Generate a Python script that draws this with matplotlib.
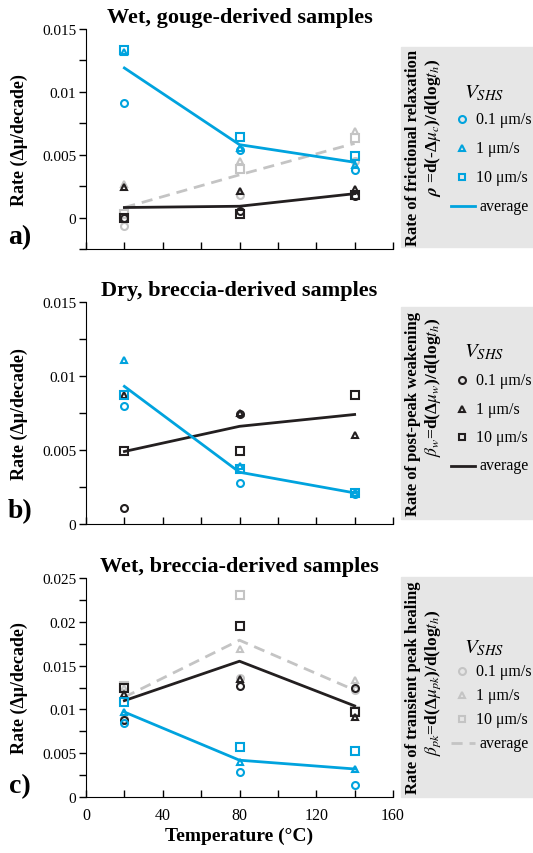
import numpy as np
import matplotlib
matplotlib.use('Agg')
import matplotlib.pyplot as plt
from matplotlib.patches import Rectangle
from matplotlib.lines import Line2D
from matplotlib.ticker import MultipleLocator, FuncFormatter

plt.rcParams['font.family'] = ['Liberation Serif', 'DejaVu Serif']
plt.rcParams['mathtext.fontset'] = 'stix'

# Data
temps = [20, 80, 140]

# a) wet, gouge-derived: rate of frictional relaxation
a_blue_circle = [0.0091, 0.0054, 0.0038]
a_blue_tri = [0.0132, 0.0055, 0.0042]
a_blue_sq = [0.0133, 0.0064, 0.0049]
a_blue_avg = [0.0119, 0.0058, 0.0044]
a_black_circle = [0.0000, 0.0005, 0.0017]
a_black_tri = [0.0024, 0.0021, 0.0023]
a_black_sq = [0.0000, 0.0003, 0.0018]
a_black_avg = [0.0008, 0.0009, 0.0019]
a_gray_circle = [-0.0007, 0.0018, 0.0045]
a_gray_tri = [0.0027, 0.0045, 0.0069]
a_gray_sq = [0.0003, 0.0039, 0.0063]
a_gray_avg = [0.0008, 0.0034, 0.0059]

# b) dry, breccia-derived: rate of post-peak weakening
b_blue_circle = [0.0080, 0.0028, 0.0020]
b_blue_tri = [0.0111, 0.0039, 0.0021]
b_blue_sq = [0.0087, 0.0037, 0.0021]
b_blue_avg = [0.0093, 0.0035, 0.0021]
b_black_circle = [0.0011, 0.0074, np.nan]
b_black_tri = [0.0087, 0.0075, 0.0060]
b_black_sq = [0.0049, 0.0049, 0.0087]
b_black_avg = [0.0049, 0.0066, 0.0074]

# c) wet, breccia-derived: rate of transient peak healing
c_gray_circle = [0.0089, 0.0136, 0.0122]
c_gray_tri = [0.0125, 0.0169, 0.0134]
c_gray_sq = [0.0127, 0.0231, 0.0098]
c_gray_avg = [0.0114, 0.0179, 0.0122]
c_black_circle = [0.0088, 0.0127, 0.0124]
c_black_tri = [0.0118, 0.0135, 0.0091]
c_black_sq = [0.0124, 0.0195, 0.0097]
c_black_avg = [0.0110, 0.0155, 0.0104]
c_blue_circle = [0.0084, 0.0029, 0.0014]
c_blue_tri = [0.0097, 0.0040, 0.0032]
c_blue_sq = [0.0108, 0.0057, 0.0053]
c_blue_avg = [0.0097, 0.0042, 0.0032]

BLUE = '#00a3de'
BLACK = '#231f20'
GRAY = '#c4c4c4'

W, H = 533, 854
fig = plt.figure(figsize=(W / 100, H / 100), dpi=100)


def fx(px):
    return px / W


def fy(py):
    return 1 - py / H


def add_axes(top, bottom):
    return fig.add_axes([fx(86), fy(bottom), fx(393) - fx(86), (bottom - top) / H])


def plot_group(ax, circ, tri, sq, avg, color, ls='-'):
    ax.plot(temps, avg, color=color, lw=2, ls=ls, dashes=(4, 2.5) if ls == '--' else (None, None))
    kw = dict(ls='none', mfc='none', mec=color, mew=1.5, clip_on=False)
    ax.plot(temps, circ, marker='o', ms=5, **kw)
    ax.plot(temps, tri, marker='^', ms=5, **kw)
    ax.plot(temps, sq, marker='s', ms=5.5, **kw)


def style_axes(ax, ymin, ymax, major, labels_x=False):
    ax.set_xlim(0, 160)
    ax.set_ylim(ymin, ymax)
    for s in ['top', 'right']:
        ax.spines[s].set_visible(False)
    ax.xaxis.set_major_locator(MultipleLocator(40))
    ax.xaxis.set_minor_locator(MultipleLocator(20))
    ax.yaxis.set_major_locator(MultipleLocator(major))
    ax.yaxis.set_minor_locator(MultipleLocator(major / 2))
    ax.yaxis.set_major_formatter(FuncFormatter(lambda v, p: '%g' % round(v, 4)))
    ax.tick_params(axis='x', which='both', direction='in', length=5, width=1, pad=7)
    ax.tick_params(axis='y', which='both', direction='out', length=5, width=1, labelsize=11, pad=2)
    ax.tick_params(axis='x', labelsize=11.5, labelbottom=labels_x)
    ax.set_ylabel('Rate (Δμ/decade)', fontsize=13, fontweight='bold')
    ax.yaxis.set_label_coords(-0.19, 0.5)


def side_panel(top, bottom, title, formula, color, ls, ylegend):
    fig.patches.append(Rectangle((fx(401), fy(bottom)), fx(533) - fx(401), (bottom - top) / H,
                                 transform=fig.transFigure, color='#e6e6e6', zorder=0))
    fig.text(fx(413), fy((top + bottom) / 2), title, rotation=90, ha='center', va='center',
             fontsize=12, fontweight='bold')
    fig.text(fx(433), fy(ylegend[0] + 35), formula, rotation=90, ha='center', va='center',
             fontsize=12.5, fontweight='bold')
    fig.text(fx(484), fy(ylegend[0]), r'$V_{SHS}$', ha='center', va='center', fontsize=15)
    labels = ['0.1 μm/s', '1 μm/s', '10 μm/s']
    markers = ['o', '^', 's']
    for i in range(3):
        yy = ylegend[1] + i * ylegend[2]
        fig.add_artist(Line2D([fx(462)], [fy(yy)], marker=markers[i], ms=5, mfc='none', mec=color, mew=1.5))
        fig.text(fx(476), fy(yy), labels[i], ha='left', va='center', fontsize=11.5)
    yy = ylegend[1] + 3 * ylegend[2]
    fig.add_artist(Line2D([fx(451), fx(475)], [fy(yy), fy(yy)], color=color, lw=2, ls=ls,
                          dashes=(4, 2.5) if ls == '--' else (None, None)))
    fig.text(fx(480), fy(yy), 'average', ha='left', va='center', fontsize=11.5)


# panel a
ax1 = add_axes(30, 250)
plot_group(ax1, a_gray_circle, a_gray_tri, a_gray_sq, a_gray_avg, GRAY, '--')
plot_group(ax1, a_black_circle, a_black_tri, a_black_sq, a_black_avg, BLACK)
plot_group(ax1, a_blue_circle, a_blue_tri, a_blue_sq, a_blue_avg, BLUE)
style_axes(ax1, -0.0025, 0.015, 0.005)
ax1.set_title('Wet, gouge-derived samples', fontsize=16, fontweight='bold', pad=5)

# panel b
ax2 = add_axes(303, 525)
plot_group(ax2, b_black_circle, b_black_tri, b_black_sq, b_black_avg, BLACK)
plot_group(ax2, b_blue_circle, b_blue_tri, b_blue_sq, b_blue_avg, BLUE)
style_axes(ax2, 0, 0.015, 0.005)
ax2.set_title('Dry, breccia-derived samples', fontsize=16, fontweight='bold', pad=5)

# panel c
ax3 = add_axes(579, 798)
plot_group(ax3, c_gray_circle, c_gray_tri, c_gray_sq, c_gray_avg, GRAY, '--')
plot_group(ax3, c_black_circle, c_black_tri, c_black_sq, c_black_avg, BLACK)
plot_group(ax3, c_blue_circle, c_blue_tri, c_blue_sq, c_blue_avg, BLUE)
style_axes(ax3, 0, 0.025, 0.005, labels_x=True)
ax3.set_title('Wet, breccia-derived samples', fontsize=16, fontweight='bold', pad=5)
ax3.set_xlabel('Temperature (°C)', fontsize=14, fontweight='bold', labelpad=3)

for lab, py in zip(['a)', 'b)', 'c)'], [238, 512, 787]):
    fig.text(fx(20), fy(py), lab, ha='center', va='center', fontsize=20, fontweight='bold')

side_panel(48, 248, 'Rate of frictional relaxation',
           r'$\boldsymbol{\rho}$ =d(-Δ$\boldsymbol{\mu_c}$)/d(log$\boldsymbol{t_h}$)',
           BLUE, '-', (93, 120, 29))
side_panel(308, 520, 'Rate of post-peak weakening',
           r'$\boldsymbol{\beta_w}$=d(Δ$\boldsymbol{\mu_w}$)/d(log$\boldsymbol{t_h}$)',
           BLACK, '-', (352, 381, 28.5))
side_panel(578, 798, 'Rate of transient peak healing',
           r'$\boldsymbol{\beta_{pk}}$=d(Δ$\boldsymbol{\mu_{pk}}$)/d(log$\boldsymbol{t_h}$)',
           GRAY, '--', (648, 672, 24))

fig.savefig('out.png', dpi=100)
